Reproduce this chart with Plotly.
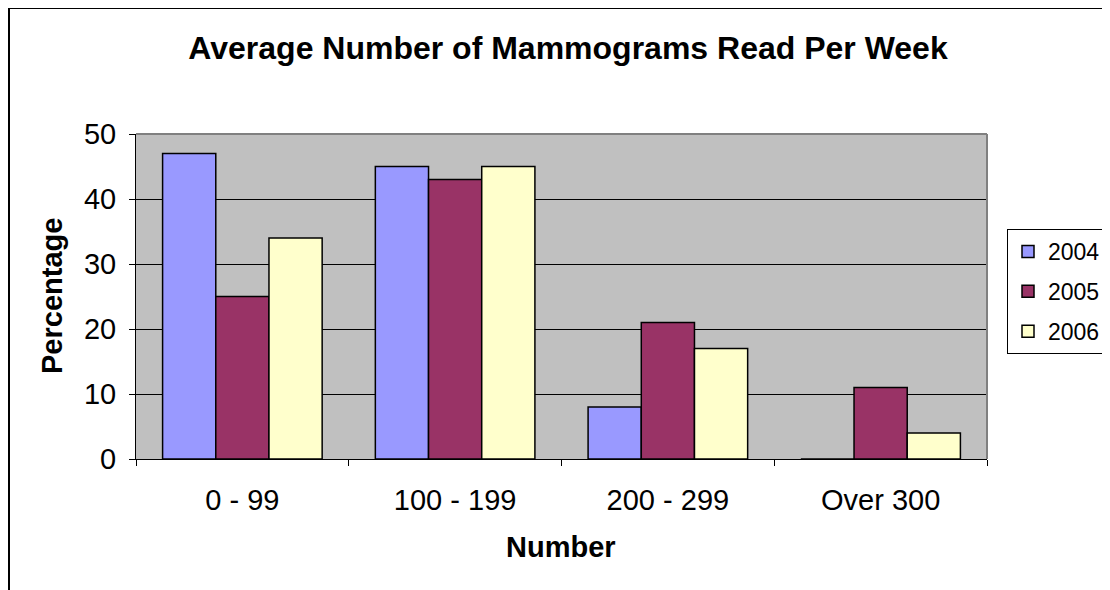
import plotly.graph_objects as go

categories = ["0 - 99", "100 - 199", "200 - 299", "Over 300"]
years = ["2004", "2005", "2006"]
values_2004 = [47, 45, 8, 0]
values_2005 = [25, 43, 21, 11]
values_2006 = [34, 45, 17, 4]
colors = ["#9999FF", "#993366", "#FFFFCC"]

OFF = 8  # default page body margin
W, H = 1110 - OFF, 590 - OFF
L, T = 136 - OFF, 134 - OFF
pw, ph = 851, 325
R = W - L - pw
B = H - T - ph

def px_x(px):
    return (px - OFF - L) / pw

def px_y(py):
    return (T + ph - (py - OFF)) / ph

fig = go.Figure()
for name, vals, col in zip(years, [values_2004, values_2005, values_2006], colors):
    fig.add_trace(go.Bar(
        x=categories, y=vals, name=name, legendgroup=name,
        marker=dict(color=col, line=dict(color="black", width=1.5)),
    ))

font = "Liberation Sans, Arial, sans-serif"
fig.update_layout(
    width=W, height=H,
    margin=dict(l=L, r=R, t=T, b=B, autoexpand=False),
    paper_bgcolor="white", plot_bgcolor="#C0C0C0",
    barmode="group", bargap=0.25, bargroupgap=0,
    font=dict(family=font, color="black"),
    title=dict(text="<b>Average Number of Mammograms Read Per Week</b>",
               font=dict(size=32, family=font, color="black"),
               x=(568 - OFF) / W, xanchor="center",
               y=1 - (48 - OFF) / H, yanchor="middle",
               xref="container", yref="container"),
    legend=dict(x=px_x(1007), y=px_y(229), xanchor="left", yanchor="top",
                bordercolor="black", borderwidth=1, bgcolor="white",
                font=dict(size=23, family=font, color="black"),
                traceorder="grouped", tracegroupgap=7,
                itemwidth=30),
    showlegend=True,
)
fig.update_yaxes(range=[0, 50], tickvals=[0, 10, 20, 30, 40, 50],
                 showgrid=True, gridcolor="black", gridwidth=1,
                 zeroline=False, showline=True, linecolor="black", linewidth=1,
                 ticks="outside", ticklen=6, tickcolor="black",
                 tickfont=dict(size=29, family=font, color="black"),
                 ticklabelstandoff=7)
fig.update_xaxes(showgrid=False, showline=True, linecolor="black", linewidth=1,
                 ticks="outside", ticklen=6, tickcolor="black", tickson="boundaries",
                 tickfont=dict(size=29, family=font, color="black"),
                 ticklabelstandoff=15)

# plot area border (gray top and right)
fig.add_shape(type="line", xref="paper", yref="paper", x0=0, x1=1, y0=1, y1=1,
              line=dict(color="#808080", width=2), layer="above")
fig.add_shape(type="line", xref="paper", yref="paper", x0=1, x1=1, y0=0, y1=1,
              line=dict(color="#808080", width=2), layer="above")
# outer chart border
fig.add_shape(type="rect", xref="paper", yref="paper",
              x0=px_x(9), x1=px_x(1200), y0=px_y(700), y1=px_y(8),
              line=dict(color="black", width=2), layer="above")

fig.add_annotation(text="<b>Percentage</b>", xref="paper", yref="paper",
                   x=px_x(52), y=px_y(296), textangle=-90, showarrow=False,
                   xanchor="center", yanchor="middle",
                   font=dict(size=29, family=font, color="black"))
fig.add_annotation(text="<b>Number</b>", xref="paper", yref="paper",
                   x=px_x(561), y=px_y(547), showarrow=False,
                   xanchor="center", yanchor="middle",
                   font=dict(size=29, family=font, color="black"))

fig.write_html("out.html")
